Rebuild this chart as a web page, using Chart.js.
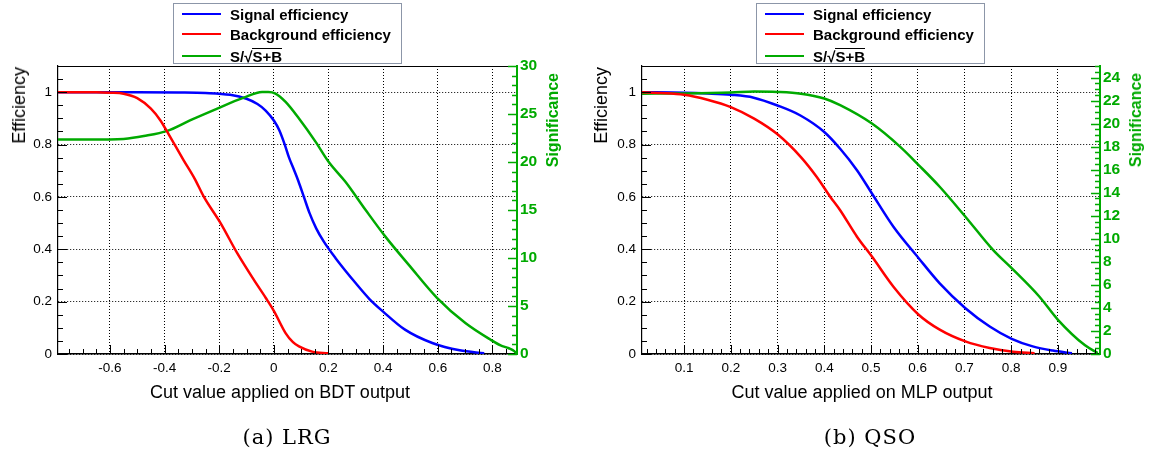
<!DOCTYPE html>
<html><head><meta charset="utf-8">
<script src="https://cdn.jsdelivr.net/npm/chart.js@4.4.1/dist/chart.umd.min.js"></script>
<style>
html,body{margin:0;padding:0;background:#fff;}
#root{position:relative;width:1153px;height:454px;overflow:hidden;font-family:"Liberation Sans",Arial,sans-serif;color:#000;}
canvas{position:absolute;top:0;}
.legend{position:absolute;top:3px;width:229px;height:61px;border:1px solid #8c96a8;background:#fff;box-sizing:border-box;}
.row{position:absolute;left:0;height:20px;display:flex;align-items:center;font-weight:bold;font-size:15px;white-space:nowrap;}
.swatch{width:39px;height:2.5px;margin-left:8px;margin-right:9px;}
.ov{border-top:1.6px solid #000;line-height:15px;}
.ytitle{position:absolute;writing-mode:vertical-rl;transform:rotate(180deg);white-space:nowrap;}
.eff{font-size:18px;line-height:20px;}
.sig{font-size:16px;line-height:18px;font-weight:bold;color:#00aa00;}
.xtitle{position:absolute;font-size:18px;line-height:20px;transform:translateX(-50%);white-space:nowrap;}
.caption{position:absolute;font-family:"DejaVu Serif",serif;font-size:21px;line-height:24px;letter-spacing:1px;transform:translateX(-50%);white-space:nowrap;}
</style>
</head><body>
<div id="root">
  <canvas id="lrg" width="580" height="454" style="left:0px"></canvas>
  <canvas id="qso" width="573" height="454" style="left:580px"></canvas>

  <div class="legend" style="left:173px">
    <div class="row" style="top:0px"><div class="swatch" style="background:#0000ff"></div>Signal efficiency</div>
    <div class="row" style="top:20px"><div class="swatch" style="background:#ff0000"></div>Background efficiency</div>
    <div class="row" style="top:42px"><div class="swatch" style="background:#00aa00"></div>S/√<span class="ov">S+B</span></div>
  </div>
  <div class="legend" style="left:756px">
    <div class="row" style="top:0px"><div class="swatch" style="background:#0000ff"></div>Signal efficiency</div>
    <div class="row" style="top:20px"><div class="swatch" style="background:#ff0000"></div>Background efficiency</div>
    <div class="row" style="top:42px"><div class="swatch" style="background:#00aa00"></div>S/√<span class="ov">S+B</span></div>
  </div>

  <div class="ytitle eff" style="left:9px;top:67px">Efficiency</div>
  <div class="ytitle sig" style="left:544px;top:73px">Significance</div>
  <div class="ytitle eff" style="left:591px;top:67px">Efficiency</div>
  <div class="ytitle sig" style="left:1127px;top:73px">Significance</div>

  <div class="xtitle" style="left:280px;top:382px">Cut value applied on BDT output</div>
  <div class="xtitle" style="left:862px;top:382px">Cut value applied on MLP output</div>

  <div class="caption" style="left:287px;top:425px">(a) LRG</div>
  <div class="caption" style="left:870px;top:425px">(b) QSO</div>
</div>
<script>
// ---------------- LRG (BDT) ----------------
const lrgSignalCut = [-0.79, -0.5, -0.35, -0.25, -0.16, -0.1, -0.06, -0.03, 0.0, 0.02, 0.04, 0.055, 0.075, 0.09, 0.11, 0.13, 0.155, 0.183, 0.226, 0.3, 0.35, 0.4, 0.48, 0.58, 0.68, 0.77];
const lrgSignalEff = [1.0, 1.0, 0.999, 0.997, 0.99, 0.975, 0.955, 0.93, 0.892, 0.855, 0.80, 0.752, 0.70, 0.66, 0.60, 0.54, 0.48, 0.429, 0.366, 0.27, 0.21, 0.162, 0.093, 0.042, 0.014, 0.003];
const lrgBkgCut = [-0.79, -0.65, -0.6, -0.55, -0.5, -0.45, -0.415, -0.38, -0.33, -0.29, -0.256, -0.195, -0.134, -0.073, -0.03, 0.0, 0.043, 0.07, 0.092, 0.14, 0.2];
const lrgBkgEff = [1.0, 1.0, 0.998, 0.994, 0.977, 0.937, 0.892, 0.83, 0.74, 0.67, 0.60, 0.50, 0.385, 0.283, 0.215, 0.165, 0.08, 0.045, 0.029, 0.009, 0.003];
const lrgSigniCut = [-0.79, -0.6, -0.55, -0.476, -0.39, -0.305, -0.207, -0.11, -0.043, -0.02, 0.006, 0.043, 0.092, 0.153, 0.201, 0.262, 0.336, 0.409, 0.494, 0.598, 0.701, 0.793, 0.83, 0.86, 0.88, 0.89];
const lrgSignificance = [22.35, 22.35, 22.4, 22.7, 23.24, 24.36, 25.57, 26.7, 27.3, 27.3, 27.13, 26.26, 24.53, 22.1, 20.0, 17.94, 15.0, 12.2, 9.28, 5.82, 3.22, 1.49, 0.9, 0.6, 0.3, 0.0];
const lrgXTicks = [-0.6, -0.4, -0.2, 0, 0.2, 0.4, 0.6, 0.8];
const lrgEffTicks = [0, 0.2, 0.4, 0.6, 0.8, 1];
const lrgSigTicks = [0, 5, 10, 15, 20, 25, 30];

// ---------------- QSO (MLP) ----------------
const qsoSignalCut = [0.01, 0.1, 0.15, 0.2, 0.249, 0.3, 0.349, 0.4, 0.434, 0.47, 0.502, 0.548, 0.602, 0.647, 0.702, 0.754, 0.801, 0.846, 0.889, 0.93];
const qsoSignalEff = [1.0, 0.998, 0.995, 0.99, 0.979, 0.949, 0.911, 0.848, 0.784, 0.702, 0.613, 0.486, 0.366, 0.27, 0.175, 0.105, 0.058, 0.029, 0.013, 0.003];
const qsoBkgCut = [0.01, 0.05, 0.1, 0.15, 0.2, 0.25, 0.3, 0.35, 0.384, 0.413, 0.434, 0.47, 0.502, 0.548, 0.602, 0.647, 0.702, 0.754, 0.804, 0.85];
const qsoBkgEff = [1.0, 0.997, 0.99, 0.971, 0.943, 0.899, 0.839, 0.752, 0.676, 0.60, 0.549, 0.448, 0.372, 0.257, 0.15, 0.093, 0.048, 0.023, 0.009, 0.003];
const qsoSigniCut = [0.01, 0.1, 0.2, 0.25, 0.3, 0.35, 0.4, 0.434, 0.502, 0.562, 0.602, 0.647, 0.702, 0.761, 0.801, 0.86, 0.9, 0.958, 0.985];
const qsoSignificance = [22.6, 22.62, 22.7, 22.79, 22.75, 22.6, 22.18, 21.6, 20.0, 18.0, 16.4, 14.52, 11.92, 9.04, 7.45, 4.99, 2.97, 0.75, 0.09];
const qsoXTicks = [0.1, 0.2, 0.3, 0.4, 0.5, 0.6, 0.7, 0.8, 0.9];
const qsoEffTicks = [0, 0.2, 0.4, 0.6, 0.8, 1];
const qsoSigTicks = [0, 2, 4, 6, 8, 10, 12, 14, 16, 18, 20, 22, 24];

const GREEN = '#00aa00';
const pts = (xs, ys) => xs.map((x, i) => ({x: x, y: ys[i]}));

// ROOT-style inner tick marks + top frame line
const rootTicks = {
  id: 'rootTicks',
  afterDatasetsDraw(chart, args, o) {
    const {ctx, chartArea: a, scales} = chart;
    const isMajor = (v, m) => Math.abs(v / m - Math.round(v / m)) < 1e-6;
    ctx.save();
    ctx.lineWidth = 1;
    ctx.strokeStyle = '#000';
    ctx.beginPath(); ctx.moveTo(a.left, a.top + 0.5); ctx.lineTo(a.right, a.top + 0.5); ctx.stroke();
    const sx = scales.x;
    for (let v = Math.ceil(sx.min / o.xStep - 1e-9) * o.xStep; v <= sx.max + 1e-9; v += o.xStep) {
      const p = Math.round(sx.getPixelForValue(v)) + 0.5;
      const len = isMajor(v, o.xMajor) ? 9 : 5;
      ctx.beginPath(); ctx.moveTo(p, a.bottom); ctx.lineTo(p, a.bottom - len); ctx.stroke();
    }
    const sy = scales.y;
    for (let v = 0; v <= sy.max + 1e-9; v += o.yStep) {
      const p = Math.round(sy.getPixelForValue(v)) + 0.5;
      const len = isMajor(v, o.yMajor) ? 9 : 5;
      ctx.beginPath(); ctx.moveTo(a.left, p); ctx.lineTo(a.left + len, p); ctx.stroke();
    }
    const s2 = scales.y2;
    ctx.strokeStyle = GREEN;
    ctx.lineWidth = 1.5;
    for (let v = 0; v <= s2.max + 1e-9; v += o.y2Step) {
      const p = Math.round(s2.getPixelForValue(v)) + 0.5;
      const len = isMajor(v, o.y2Major) ? 9 : 5;
      ctx.beginPath(); ctx.moveTo(a.right, p); ctx.lineTo(a.right - len, p); ctx.stroke();
    }
    ctx.restore();
  }
};

function build(id, d) {
  const tickFont = {family: '"Liberation Sans", Arial, sans-serif', size: 13.5};
  return new Chart(document.getElementById(id), {
    type: 'line',
    data: {
      datasets: [
        {label: 'Background efficiency', data: pts(d.bkgX, d.bkgY), borderColor: '#ff0000', yAxisID: 'y'},
        {label: 'S/√(S+B)', data: pts(d.sigX, d.sigY), borderColor: GREEN, yAxisID: 'y2'},
        {label: 'Signal efficiency', data: pts(d.sX, d.sY), borderColor: '#0000ff', yAxisID: 'y'}
      ].map(ds => Object.assign(ds, {borderWidth: 2.5, pointRadius: 0, fill: false, cubicInterpolationMode: 'monotone'}))
    },
    options: {
      responsive: false, animation: false, devicePixelRatio: 1,
      layout: {padding: {top: 66, left: 0, right: 0, bottom: 0}},
      plugins: {legend: {display: false}, tooltip: {enabled: false}, title: {display: false},
        rootTicks: d.ticks},
      scales: {
        x: {type: 'linear', min: d.xmin, max: d.xmax,
          afterBuildTicks: s => { s.ticks = d.xTicks.map(v => ({value: v})); },
          afterFit: s => { s.height = 100; },
          ticks: {font: tickFont, color: '#000', padding: 6, maxRotation: 0, autoSkip: false, callback: v => String(v)},
          grid: {color: '#000', lineWidth: 1, drawTicks: false},
          border: {display: true, color: '#000', width: 1.5, dash: [1, 2]}},
        y: {type: 'linear', position: 'left', min: 0, max: 1.1,
          afterBuildTicks: s => { s.ticks = d.effTicks.map(v => ({value: v})); },
          afterFit: s => { s.width = d.leftW; },
          ticks: {font: tickFont, color: '#000', padding: 6, callback: v => String(v)},
          grid: {color: '#000', lineWidth: 1, drawTicks: false},
          border: {display: true, color: '#000', width: 1.2, dash: [1, 2]}},
        y2: {type: 'linear', position: 'right', min: 0, max: d.sigMax,
          afterBuildTicks: s => { s.ticks = d.sigTicks.map(v => ({value: v})); },
          afterFit: s => { s.width = d.rightW; },
          ticks: {font: {family: '"Liberation Sans", Arial, sans-serif', size: 15.5, weight: 'bold'}, color: GREEN, padding: 3, callback: v => String(v)},
          grid: {drawOnChartArea: false, drawTicks: false},
          border: {display: true, color: GREEN, width: 2}}
      }
    },
    plugins: [rootTicks]
  });
}

build('lrg', {
  sX: lrgSignalCut, sY: lrgSignalEff, bkgX: lrgBkgCut, bkgY: lrgBkgEff, sigX: lrgSigniCut, sigY: lrgSignificance,
  xTicks: lrgXTicks, effTicks: lrgEffTicks, sigTicks: lrgSigTicks,
  xmin: -0.79, xmax: 0.89, sigMax: 30, leftW: 58, rightW: 63,
  ticks: {xStep: 0.05, xMajor: 0.2, yStep: 0.05, yMajor: 0.2, y2Step: 1, y2Major: 5}
});
build('qso', {
  sX: qsoSignalCut, sY: qsoSignalEff, bkgX: qsoBkgCut, bkgY: qsoBkgEff, sigX: qsoSigniCut, sigY: qsoSignificance,
  xTicks: qsoXTicks, effTicks: qsoEffTicks, sigTicks: qsoSigTicks,
  xmin: 0.01, xmax: 0.99, sigMax: 25, leftW: 62, rightW: 53,
  ticks: {xStep: 0.02, xMajor: 0.1, yStep: 0.05, yMajor: 0.2, y2Step: 0.5, y2Major: 2}
});
</script>
</body></html>
